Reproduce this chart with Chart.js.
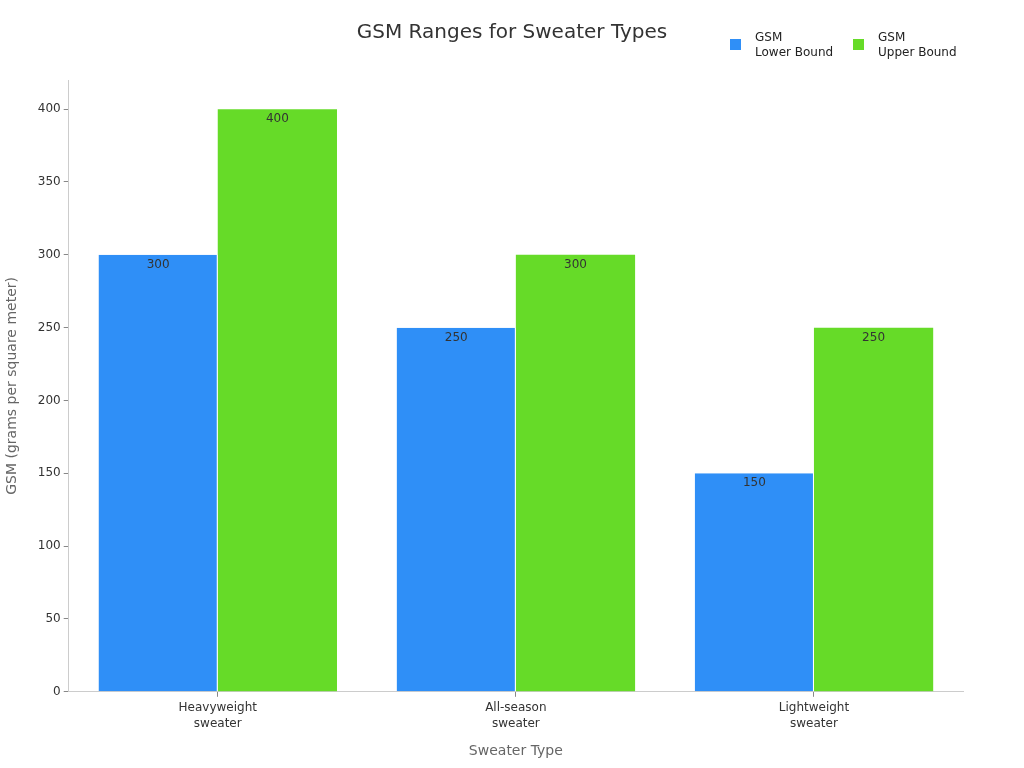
<!DOCTYPE html>
<html>
<head>
<meta charset="utf-8">
<script src="https://cdn.jsdelivr.net/npm/chart.js"></script>
<style>
  html,body{margin:0;padding:0;background:#fff;}
  #wrap{width:1024px;height:768px;}
</style>
</head>
<body>
<div id="wrap"><canvas id="gsmChart" width="1024" height="768"></canvas></div>
<script>
  const chartTitle = 'GSM Ranges for Sweater Types';
  const categories = [['Heavyweight','sweater'], ['All-season','sweater'], ['Lightweight','sweater']];
  const lowerBound = [300, 250, 150];
  const upperBound = [400, 300, 250];
  const seriesNames = [['GSM','Lower Bound'], ['GSM','Upper Bound']];
  const yTicks = [0, 50, 100, 150, 200, 250, 300, 350, 400];
  const blue = '#2F8FF7';
  const green = '#66DB28';
  const font = "'DejaVu Sans', sans-serif";

  // value labels just inside the top of each bar
  const valueLabels = {
    id:'valueLabels',
    afterDatasetsDraw(chart){
      const ctx = chart.ctx;
      ctx.save();
      ctx.font = '12px ' + font;
      ctx.fillStyle = '#333';
      ctx.textAlign = 'center';
      ctx.textBaseline = 'middle';
      chart.data.datasets.forEach((ds, i)=>{
        chart.getDatasetMeta(i).data.forEach((bar, j)=>{
          ctx.fillText(ds.data[j], bar.x, bar.y + 10);
        });
      });
      ctx.restore();
    }
  };

  // title centred on the page and two-line legend in the top right corner
  const header = {
    id:'header',
    afterDraw(chart){
      const ctx = chart.ctx;
      ctx.save();
      ctx.font = '20px ' + font;
      ctx.fillStyle = '#333';
      ctx.textAlign = 'center';
      ctx.textBaseline = 'middle';
      ctx.fillText(chartTitle, chart.width / 2, 33);

      const xs = [730, 853];
      ctx.font = '12px ' + font;
      ctx.textAlign = 'left';
      chart.data.datasets.forEach((ds, i)=>{
        ctx.fillStyle = ds.backgroundColor;
        ctx.fillRect(xs[i], 39, 11, 11);
        ctx.fillStyle = '#222';
        seriesNames[i].forEach((t, k)=> ctx.fillText(t, xs[i] + 25, 38 + k*15));
      });
      ctx.restore();
    }
  };

  new Chart(document.getElementById('gsmChart').getContext('2d'), {
    type:'bar',
    data:{
      labels: categories,
      datasets:[
        {label:'GSM Lower Bound', data:lowerBound, backgroundColor:blue, borderColor:'#ffffff', borderWidth:{right:1}, borderSkipped:false},
        {label:'GSM Upper Bound', data:upperBound, backgroundColor:green, borderColor:'#ffffff', borderWidth:{left:0}, borderSkipped:false}
      ]
    },
    options:{
      responsive:false,
      devicePixelRatio:1,
      animation:false,
      categoryPercentage:0.8,
      barPercentage:1.0,
      layout:{padding:{left:0, right:61, top:80, bottom:4}},
      plugins:{
        legend:{display:false},
        tooltip:{enabled:false},
        title:{display:false}
      },
      scales:{
        x:{
          grid:{display:true, drawOnChartArea:false, offset:false, tickLength:5, color:'#888'},
          border:{color:'#ccc'},
          ticks:{color:'#333', font:{family:font, size:12, lineHeight:1.35}, padding:3, maxRotation:0},
          title:{display:true, text:'Sweater Type', color:'#666', font:{family:font, size:14}, padding:{top:8}}
        },
        y:{
          min:0, max:420,
          afterBuildTicks(axis){ axis.ticks = yTicks.map(v=>({value:v})); },
          grid:{display:true, drawOnChartArea:false, tickLength:5, color:'#888'},
          border:{color:'#ccc'},
          ticks:{color:'#333', font:{family:font, size:12}, padding:3},
          title:{display:true, text:'GSM (grams per square meter)', color:'#666', font:{family:font, size:14}, padding:{bottom:14}}
        }
      }
    },
    plugins:[valueLabels, header]
  });
</script>
</body>
</html>
